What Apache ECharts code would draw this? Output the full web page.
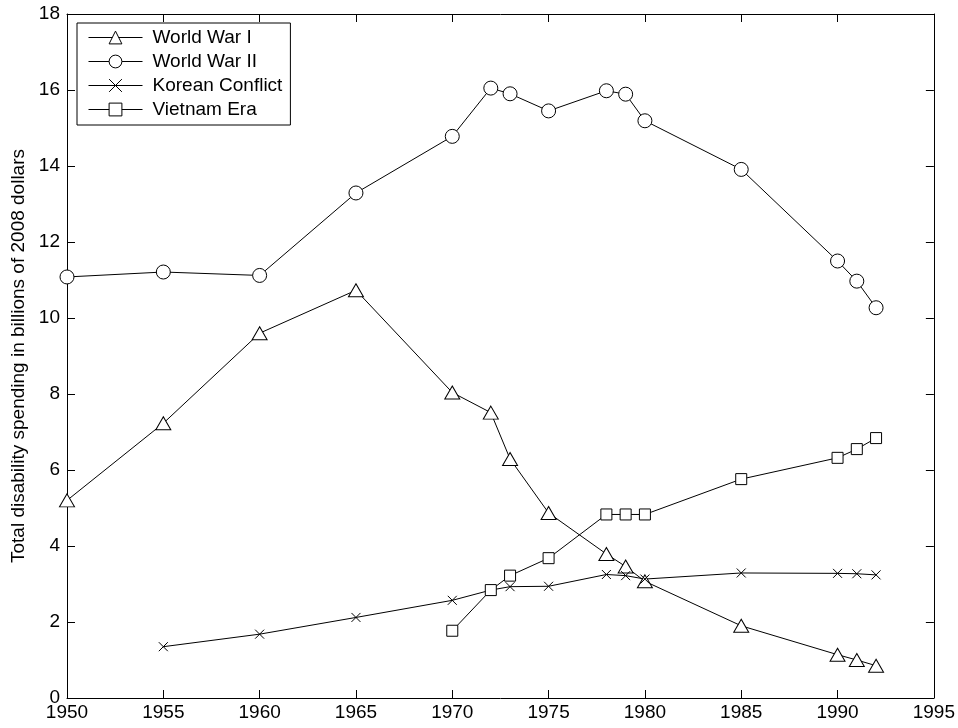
<!DOCTYPE html>
<html><head><meta charset="utf-8">
<script src="https://cdn.jsdelivr.net/npm/echarts@6/dist/echarts.min.js"></script>
<style>html,body{margin:0;padding:0;background:#fff}#c{width:958px;height:728px}</style>
</head><body><div id="c"></div>
<script>
const yearsWW1 = [1950,1955,1960,1965,1970,1972,1973,1975,1978,1979,1980,1985,1990,1991,1992];
const ww1 = [5.2,7.23,9.6,10.73,8.04,7.51,6.29,4.87,3.79,3.46,3.07,1.9,1.14,1.0,0.85];
const yearsWW2 = [1950,1955,1960,1965,1970,1972,1973,1975,1978,1979,1980,1985,1990,1991,1992];
const ww2 = [11.08,11.21,11.12,13.29,14.78,16.05,15.9,15.45,15.98,15.89,15.19,13.91,11.5,10.97,10.27];
const yearsKorea = [1955,1960,1965,1970,1972,1973,1975,1978,1979,1980,1985,1990,1991,1992];
const korea = [1.35,1.68,2.12,2.57,2.84,2.93,2.94,3.25,3.22,3.13,3.29,3.28,3.27,3.24];
const yearsVietnam = [1970,1972,1973,1975,1978,1979,1980,1985,1990,1991,1992];
const vietnam = [1.77,2.84,3.22,3.68,4.83,4.83,4.83,5.76,6.32,6.55,6.84];
const seriesNames = ['World War I','World War II','Korean Conflict','Vietnam Era'];
const xTicks = {min:1950,max:1995,interval:5};
const yTicks = {min:0,max:18,interval:2};
const yLabel = 'Total disability spending in billions of 2008 dollars';

const pair = (xs, ys) => xs.map((x,i)=>[x, ys[i]]);
const font = 'Liberation Sans, Arial, sans-serif';
const FS = 19;
const mk = (name, data, symbol, size) => ({
  name, type:'line', data, symbol, symbolSize:size, showSymbol:true,
  lineStyle:{color:'#000', width:1}, itemStyle:{color:'#fff', borderColor:'#000', borderWidth:1},
  emphasis:{disabled:true}, animation:false, z:2
});
const crossPath = 'path://M0,0L10,10M10,0L0,10';
const axisBase = {
  type:'value', axisLine:{show:true, onZero:false, lineStyle:{color:'#000', width:1}},
  axisTick:{show:true, inside:true, length:8, lineStyle:{color:'#000'}},
  splitLine:{show:false}
};
const chart = echarts.init(document.getElementById('c'));
chart.setOption({
  backgroundColor:'#fff',
  animation:false,
  grid:{left:67, right:24, top:14, bottom:30, containLabel:false},
  xAxis:[
    Object.assign({}, axisBase, {position:'bottom', min:xTicks.min, max:xTicks.max, interval:xTicks.interval,
      axisLabel:{color:'#000', fontFamily:font, fontSize:FS, margin:5, formatter:v=>String(v)}}),
    Object.assign({}, axisBase, {position:'top', min:xTicks.min, max:xTicks.max, interval:xTicks.interval,
      axisLabel:{show:false}})
  ],
  yAxis:[
    Object.assign({}, axisBase, {position:'left', min:yTicks.min, max:yTicks.max, interval:yTicks.interval,
      name:yLabel, nameLocation:'middle', nameGap:36, nameRotate:90,
      nameTextStyle:{color:'#000', fontFamily:font, fontSize:FS},
      axisLabel:{color:'#000', fontFamily:font, fontSize:FS, margin:7}}),
    Object.assign({}, axisBase, {position:'right', min:yTicks.min, max:yTicks.max, interval:yTicks.interval,
      axisLabel:{show:false}})
  ],
  legend:{
    left:77, top:23, orient:'vertical', backgroundColor:'#fff', borderColor:'#000', borderWidth:1,
    borderRadius:0, padding:[5,8,6,11], itemGap:5, itemWidth:54, itemHeight:16,
    lineStyle:{width:1, color:'#000'}, itemStyle:{borderWidth:1, borderColor:'#000', color:'#fff'},
    textStyle:{color:'#000', fontFamily:font, fontSize:FS, lineHeight:19, padding:[0,0,0,5]},
    data:seriesNames
  },
  series:[
    mk(seriesNames[0], pair(yearsWW1, ww1), 'triangle', [15,13]),
    mk(seriesNames[1], pair(yearsWW2, ww2), 'circle', 14),
    mk(seriesNames[2], pair(yearsKorea, korea), crossPath, 9),
    mk(seriesNames[3], pair(yearsVietnam, vietnam), 'rect', 11)
  ]
});
</script></body></html>
